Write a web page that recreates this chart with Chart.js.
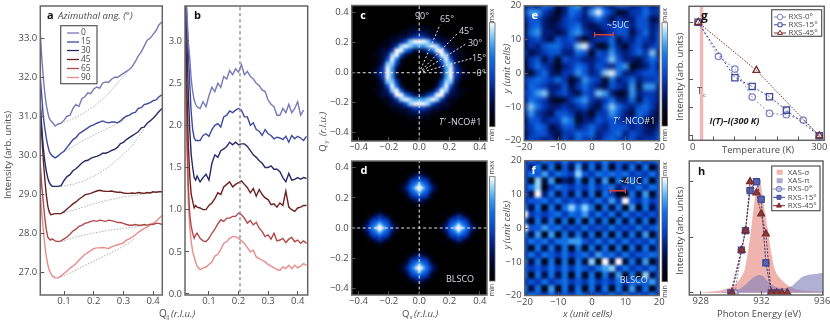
<!DOCTYPE html>
<html>
<head>
<meta charset="utf-8">
<style>
html, body { margin: 0; padding: 0; background: #fff; }
body { width: 830px; height: 328px; overflow: hidden; position: relative; }
canvas { position: absolute; left: 0; top: 0; }
</style>
<script src="https://cdn.jsdelivr.net/npm/chart.js@4/dist/chart.umd.js"></script>
</head>
<body>
<canvas id="panelA" width="830" height="328"></canvas>
<canvas id="panelB" width="830" height="328"></canvas>
<canvas id="panelC" width="830" height="328"></canvas>
<canvas id="panelD" width="830" height="328"></canvas>
<canvas id="panelE" width="830" height="328"></canvas>
<canvas id="panelF" width="830" height="328"></canvas>
<canvas id="panelG" width="830" height="328"></canvas>
<canvas id="panelH" width="830" height="328"></canvas>
<script>
// Q values shared by panels a and b
var qVals = [0.02,0.025,0.03,0.035,0.04,0.045,0.05,0.055,0.06,0.07,0.08,0.09,0.10,0.11,0.12,0.13,0.14,0.15,0.16,0.17,0.18,0.19,0.20,0.21,0.22,0.23,0.24,0.25,0.26,0.27,0.28,0.29,0.30,0.31,0.32,0.33,0.34,0.35,0.36,0.37,0.38,0.39,0.40,0.41,0.42,0.43]
var angleNames = ['0','15','30','45','65','90']
var angleColors = ['#7379b9','#3d4a9d','#252c68','#6b1f1f','#b04a4a','#e98b8b']

// panel a, raw intensity
var a0 = [33.1,32.5,32.0,31.6,31.3,31.1,30.95,30.88,30.85,30.75,30.8,30.82,30.9,31.0,31.02,31.2,31.3,31.25,31.45,31.5,31.6,31.58,31.7,31.75,31.72,31.85,31.88,31.87,31.95,32.0,32.0,32.05,32.1,32.15,32.2,32.28,32.4,32.55,32.65,32.8,32.95,33.0,33.1,33.2,33.35,33.42]
var a15 = [32.0,31.5,31.0,30.7,30.45,30.25,30.1,30.03,29.98,29.93,29.98,30.05,30.1,30.2,30.3,30.4,30.45,30.55,30.6,30.65,30.7,30.75,30.78,30.82,30.85,30.88,30.85,30.83,30.85,30.85,30.83,30.88,30.95,31.0,31.03,31.08,31.1,31.2,31.22,31.3,31.32,31.35,31.4,31.42,31.5,31.55]
var a30 = [31.3,30.7,30.2,29.85,29.6,29.42,29.3,29.24,29.2,29.2,29.2,29.22,29.35,29.45,29.5,29.6,29.65,29.72,29.8,29.85,29.87,29.92,29.95,29.97,30.0,30.05,30.05,30.08,30.12,30.15,30.2,30.3,30.33,30.4,30.45,30.5,30.55,30.6,30.7,30.72,30.82,30.88,30.95,31.03,31.12,31.2]
var a45 = [31.3,30.5,29.9,29.4,29.0,28.7,28.55,28.47,28.48,28.5,28.5,28.5,28.55,28.62,28.68,28.75,28.8,28.87,28.92,28.98,29.0,29.02,29.05,29.08,29.1,29.08,29.07,29.07,29.08,29.06,29.05,29.05,29.03,29.02,29.02,29.03,29.02,29.04,29.03,29.02,29.04,29.03,29.06,29.05,29.06,29.06]
var a65 = [29.75,29.2,28.8,28.4,28.1,27.9,27.85,27.82,27.85,27.8,27.78,27.8,27.85,27.9,27.97,28.05,28.1,28.17,28.2,28.25,28.27,28.3,28.32,28.3,28.33,28.32,28.3,28.33,28.32,28.3,28.27,28.27,28.25,28.22,28.2,28.2,28.22,28.2,28.2,28.22,28.2,28.23,28.22,28.25,28.25,28.22]
var a90 = [29.0,28.5,28.1,27.7,27.4,27.2,27.05,26.97,26.9,26.85,26.85,26.9,26.97,27.02,27.1,27.15,27.22,27.3,27.38,27.45,27.5,27.55,27.6,27.62,27.62,27.63,27.62,27.6,27.65,27.67,27.7,27.72,27.75,27.82,27.85,27.9,27.95,28.02,28.07,28.12,28.15,28.2,28.25,28.3,28.38,28.45]
// panel a, dotted backgrounds as [Q, intensity]
var bgA0 = [[0.08,30.8],[0.12,30.9],[0.16,31.05],[0.2,31.25],[0.24,31.5],[0.28,31.85],[0.32,32.2],[0.33,32.28]]
var bgA15 = [[0.09,30.05],[0.13,30.22],[0.17,30.4],[0.21,30.55],[0.25,30.7],[0.29,30.85],[0.31,30.98]]
var bgA30 = [[0.09,29.2],[0.13,29.25],[0.17,29.35],[0.21,29.5],[0.25,29.7],[0.29,29.95],[0.33,30.25],[0.37,30.68]]
var bgA45 = [[0.10,28.52],[0.15,28.63],[0.2,28.75],[0.25,28.85],[0.3,28.93],[0.35,28.98],[0.4,29.04]]
var bgA65 = [[0.09,27.78],[0.15,27.92],[0.2,28.0],[0.25,28.07],[0.3,28.12],[0.35,28.17],[0.38,28.2]]
var bgA90 = [[0.08,26.85],[0.12,26.97],[0.16,27.13],[0.2,27.28],[0.24,27.43],[0.28,27.58],[0.32,27.75],[0.34,27.88]]

// panel b, background subtracted
var b0 = [3.6,3.4,3.0,2.8,2.55,2.4,2.3,2.25,2.22,2.2,2.28,2.22,2.35,2.45,2.4,2.5,2.45,2.58,2.55,2.65,2.6,2.67,2.63,2.72,2.6,2.64,2.58,2.55,2.5,2.47,2.42,2.4,2.3,2.25,2.22,2.12,2.12,2.2,2.15,2.25,2.15,2.2,2.28,2.12,2.18,null]
var b15 = [3.6,3.3,2.9,2.5,2.15,1.95,1.85,1.82,1.82,1.82,1.88,1.9,1.87,1.95,2.0,2.02,1.98,2.1,2.12,2.17,2.15,2.18,2.2,2.18,2.1,2.1,2.0,2.03,1.95,1.93,1.88,1.95,1.9,1.88,1.84,1.86,1.85,1.83,1.87,1.8,1.88,1.84,1.87,1.85,1.82,1.87]
var b30 = [3.6,3.1,2.4,1.95,1.65,1.5,1.38,1.35,1.4,1.33,1.38,1.42,1.35,1.55,1.65,1.62,1.7,1.72,1.75,1.8,1.77,1.8,1.77,1.78,1.78,1.75,1.7,1.65,1.62,1.58,1.55,1.5,1.5,1.52,1.48,1.48,1.45,1.38,1.33,1.43,1.35,1.36,1.38,1.36,1.38,1.37]
var b45 = [3.4,2.5,1.8,1.4,1.18,1.1,1.02,1.05,1.03,1.02,1.0,1.0,1.05,1.08,1.13,1.2,1.18,1.27,1.3,1.33,1.27,1.3,1.32,1.34,1.3,1.26,1.2,1.25,1.16,1.24,1.18,1.14,1.12,1.06,1.07,1.03,1.08,1.05,1.22,1.03,1.0,0.98,1.02,1.03,1.05,1.05]
var b65 = [3.3,2.0,1.3,0.95,0.8,0.72,0.66,0.7,0.72,0.66,0.63,0.62,0.66,0.72,0.77,0.83,0.88,0.86,0.9,0.9,0.92,0.92,0.96,0.94,0.9,0.84,0.87,0.82,0.85,0.78,0.74,0.68,0.7,0.65,0.72,0.63,0.64,0.66,0.61,0.65,0.67,0.62,0.64,0.6,0.63,0.6]
var b90 = [3.0,1.8,1.1,0.8,0.62,0.5,0.44,0.38,0.33,0.29,0.31,0.32,0.35,0.38,0.45,0.47,0.53,0.6,0.62,0.66,0.68,0.68,0.66,0.63,0.6,0.55,0.5,0.52,0.44,0.42,0.4,0.38,0.35,0.33,0.31,0.29,0.28,0.32,0.3,0.34,0.3,0.34,0.31,0.33,0.36,0.34]

// panel c, one quadrant of the map, rows from Qy=0 upwards, 0.03 r.l.u. a cell, digit = brightness
var ringStep = 0.03
var ringRows = ['00000279431','00000279421','00001488310','00002695210','00125983211','22469942210','77898421100','99853221000','44322110000','32211000000','11100000000']
// azimuth cuts, end of each dashed line
var cutEnds = [[0.345,0.095],[0.315,0.196],[0.25,0.26],[0.138,0.32]]

// panel d, spot centres and one quadrant of a spot, 0.02 r.l.u. a cell
var spotCentres = [[0.26,0],[-0.26,0],[0,0.265],[0,-0.265]]
var spotStep = 0.02
var spotRows = ['9975421','9765321','7654210','5443100','4321100','2110000','1000000']

// panels e and f, rows from y=20 down to y=-20, x from -20 to 20, 2 unit cells a cell
var mapStep = 2
var eRows = ['343652367346435534534','477431365379641244644','355322454346424335523','256323456323445535534','267332367432345524635','345325453134462435435','243566448941163145345','423455336515474346483','245241544334585332464','146431346535436712353','314632447534896334554','456546413754163463445','365433524643254372773','457834532548731273443','365421246743463362543','486433434532586435642','374325542314475326532','255344761335454345213','346523553464355534324','245532446563456354335','354342536443564453445']
var fRows = ['454654645454645546456','536261527262615262614','465746548546565645464','518271326162716162615','468146545464563546465','529362526261641162715','455646454546474954645','626162686861626171625','945456465746463645454','516261616162616262615','955756454645464546456','627171626261616262715','465646677546464645464','516262616162616162625','464654645647564645565','626161616281929262714','545464646546784645464','616262616161627161825','454645645464546456574','626171626162616272615','465464546545464645464']
var heatColors = ['#000000','#000418','#000c40','#021c78','#0438b4','#0a54d8','#1070e8','#3a9cf4','#90d4fc','#ffffff']

// panel g
var tempRxs0 = [13,61,100,141,182,222,262,300]
var intRxs0 = [1,0.70,0.588,0.341,0.197,0.185,0.138,0]
var tempRxs15 = [13,100,141,182,222,300]
var intRxs15 = [1,0.512,0.435,0.344,0.226,0]
var tempRxs45 = [13,151,300]
var intRxs45 = [1,0.576,0]
var tcMark = 21

// panel h
var eXasS = [928,929,929.5,930,930.4,930.7,930.9,931.1,931.3,931.5,931.7,931.8,931.95,932.1,932.3,932.45,932.6,932.8,933,933.3,933.7,934.2,934.8,935.5,936.05]
var xasS = [0.003,0.015,0.03,0.05,0.09,0.15,0.21,0.36,0.55,0.78,0.97,1.0,0.98,0.85,0.66,0.55,0.4,0.25,0.17,0.12,0.07,0.035,0.02,0.012,0.008]
var eXasP = [928,930,930.5,931,931.4,931.8,932.1,932.5,933,933.5,934,934.4,934.8,935.2,935.6,936.05]
var xasP = [0,0.01,0.03,0.08,0.13,0.16,0.15,0.09,0.05,0.04,0.06,0.11,0.15,0.165,0.17,0.18]
var eRxs0 = [930.26,930.68,930.95,931.25,931.7,931.98,932.29,932.64,932.95,933.25,933.65]
var rxsH0 = [0,0.385,0.56,0.925,1,0.84,0.27,0,0,0,0]
var eRxs15 = [929.98,930.68,930.95,931.25,931.67,931.98,932.29,932.65,933]
var rxsH15 = [0,0.385,0.56,0.92,1,0.84,0.27,0,0]
var eRxs45 = [930.05,930.7,930.95,931.25,931.67,931.98,932.29,932.64,933,933.35,933.7]
var rxsH45 = [0,0.385,0.56,1,0.9,0.71,0.53,0,0,0,0]

var fontName = '"Open Sans", "Noto Sans", sans-serif'
var textGrey = '#4a4a4a'
var frameGrey = '#666666'

function zip(xs, ys) {
    return xs.map(function (x, i) { return { x: x, y: ys[i] } })
}
function pairs(list) {
    return list.map(function (p) { return { x: p[0], y: p[1] } })
}
function minusSign(text) {
    return String(text).replace('-', '\u2212')
}
function lineSet(points, color, width, dash) {
    return { data: points, showLine: true, borderColor: color, borderWidth: width, borderDash: dash || [], pointRadius: 0, fill: false, tension: 0 }
}
function markerSet(points, color, style, radius, fillColor, dash) {
    return {
        data: points, showLine: true, borderColor: color, borderWidth: 1, borderDash: dash || [2, 2], tension: 0,
        pointStyle: style, pointRadius: radius, pointBorderColor: color, pointBorderWidth: 1.3, pointBackgroundColor: fillColor
    }
}
function heatSet(points, cellRadius) {
    return {
        data: points, heat: true, showLine: false, clip: 14, pointStyle: 'rect', pointRadius: cellRadius, pointBorderWidth: 0,
        pointBackgroundColor: function (c) { return c.raw ? heatColors[c.raw.v] : '#000' }
    }
}
function quadrantPoints(rows, step, cx, cy) {
    var out = []
    rows.forEach(function (row, j) {
        row.split('').forEach(function (ch, i) {
            var v = +ch
            if (v == 0) return
            ;[1, -1].forEach(function (sx) {
                ;[1, -1].forEach(function (sy) {
                    out.push({ x: cx + sx * i * step, y: cy + sy * j * step, v: v })
                })
            })
        })
    })
    return out
}
function mapPoints(rows, step) {
    var out = []
    rows.forEach(function (row, j) {
        row.split('').forEach(function (ch, i) {
            out.push({ x: -20 + i * step, y: 20 - j * step, v: +ch })
        })
    })
    return out
}
function axis(min, max, ticks, labelFn, fixedSize, isX, tickColor) {
    var o = {
        type: 'linear', min: min, max: max, position: isX ? 'bottom' : 'left',
        border: { display: false, z: 1 },
        grid: { drawOnChartArea: false, drawTicks: true, tickLength: -4, color: tickColor || '#555', lineWidth: 1, z: 1 },
        ticks: { autoSkip: false, maxRotation: 0, minRotation: 0, padding: isX ? 5 : 7, color: textGrey, font: { family: fontName, size: 9.5 }, callback: labelFn, z: 1 },
        afterBuildTicks: function (s) { s.ticks = ticks.map(function (v) { return { value: v } }) }
    }
    o.afterFit = function (s) {
        // keep the plot box where the page wants it, no room for overhanging labels
        s.paddingTop = 0; s.paddingBottom = 0; s.paddingLeft = 0; s.paddingRight = 0
        if (isX) s.height = fixedSize
        else s.width = fixedSize
    }
    return o
}
function note(t, x, y, font, color, align, rot) {
    return { t: t, x: x, y: y, font: font || ('9.5px ' + fontName), color: color || textGrey, align: align || 'left', rot: rot || 0 }
}

function makePanel(id, area, datasets, xAxis, yAxis, extra) {
    var panelPlugin = {
        id: 'panelExtras',
        afterDatasetDraw: function (chart, args) {
            // blur the heat cells so the map reads as a smooth image
            if (!chart.data.datasets[args.index].heat) return
            var a = chart.chartArea, c = chart.ctx
            var tmp = document.createElement('canvas')
            tmp.width = chart.width; tmp.height = chart.height
            var t = tmp.getContext('2d')
            t.filter = 'blur(' + extra.blur + 'px)'
            t.drawImage(chart.canvas, 0, 0)
            c.clearRect(0, 0, chart.width, chart.height)
            c.fillStyle = '#000'
            c.fillRect(a.left, a.top, a.right - a.left, a.bottom - a.top)
            c.drawImage(tmp, a.left, a.top, a.right - a.left, a.bottom - a.top, a.left, a.top, a.right - a.left, a.bottom - a.top)
        },
        afterDraw: function (chart) {
            var c = chart.ctx, a = chart.chartArea
            c.save()
            c.strokeStyle = frameGrey
            c.lineWidth = 1.5
            c.strokeRect(a.left, a.top, a.right - a.left, a.bottom - a.top)
            if (extra.bar) {
                var b = extra.bar
                var g = c.createLinearGradient(0, b.bottom, 0, b.top)
                heatColors.forEach(function (col, i) { g.addColorStop(i / 9, col) })
                c.fillStyle = g
                c.fillRect(b.left, b.top, b.right - b.left, b.bottom - b.top)
                c.lineWidth = 0.8
                c.strokeRect(b.left, b.top, b.right - b.left, b.bottom - b.top)
            }
            if (extra.legend) drawLegend(c, extra.legend)
            ;(extra.notes || []).forEach(function (n) {
                c.save()
                c.translate(n.x, n.y)
                c.rotate(n.rot * Math.PI / 180)
                c.font = n.font
                c.fillStyle = n.color
                c.textAlign = n.align
                c.textBaseline = 'middle'
                c.fillText(n.t, 0, 0)
                c.restore()
            })
            c.restore()
        }
    }
    return new Chart(document.getElementById(id), {
        type: 'scatter',
        data: { datasets: datasets },
        options: {
            responsive: false, animation: false, events: [],
            layout: { padding: { left: 0, top: area.top, right: 830 - area.right, bottom: 0 } },
            plugins: { legend: { display: false }, tooltip: { enabled: false } },
            scales: { x: xAxis, y: yAxis }
        },
        plugins: [panelPlugin]
    })
}

function drawLegend(c, lg) {
    c.save()
    c.fillStyle = '#fff'
    c.fillRect(lg.left, lg.top, lg.right - lg.left, lg.bottom - lg.top)
    c.strokeStyle = '#555'
    c.lineWidth = 1.2
    c.strokeRect(lg.left, lg.top, lg.right - lg.left, lg.bottom - lg.top)
    lg.rows.forEach(function (r, i) {
        var y = lg.rowY[i]
        if (r.area) {
            c.fillStyle = r.area
            c.fillRect(lg.swatch[0], y - 2.5, lg.swatch[1] - lg.swatch[0], 5)
        } else {
            c.strokeStyle = r.color
            c.lineWidth = r.width || 1.3
            c.beginPath()
            c.moveTo(lg.line[0], y)
            c.lineTo(lg.line[1], y)
            c.stroke()
            if (r.point) {
                c.fillStyle = r.fill
                c.lineWidth = 1
                c.beginPath()
                Chart.helpers.drawPoint(c, { pointStyle: r.point, radius: 2.8, borderWidth: 1, rotation: 0 }, (lg.line[0] + lg.line[1]) / 2, y)
            }
        }
        c.fillStyle = textGrey
        c.font = lg.font
        c.textAlign = 'left'
        c.textBaseline = 'middle'
        c.fillText(r.label, lg.textX, y)
    })
    c.restore()
}

var boldLabel = 'bold 11px ' + fontName
var italicFont = 'italic 9.5px ' + fontName
var lightText = '#d8dde8'

// ---- panel a
var setsA = [a0, a15, a30, a45, a65, a90].map(function (s, i) { return lineSet(zip(qVals, s), angleColors[i], 1.4) })
;[bgA0, bgA15, bgA30, bgA45, bgA65, bgA90].forEach(function (s) { setsA.push(lineSet(pairs(s), '#a8a8a8', 0.9, [1.5, 1.5])) })
makePanel('panelA', { top: 6, right: 162.3 },
    setsA,
    axis(0.02, 0.431, [0.1, 0.2, 0.3, 0.4], function (v) { return v.toFixed(1) }, 33, true),
    axis(26.41, 33.83, [27, 28, 29, 30, 31, 32, 33], function (v) { return v.toFixed(1) }, 40.3, false),
    {
        legend: {
            left: 60.7, top: 25.7, right: 97, bottom: 83.7, rowY: [33, 42, 50.5, 59.5, 68.5, 77.5], line: [67, 79], textX: 81, swatch: [0, 0],
            font: '8.5px ' + fontName,
            rows: angleNames.map(function (n, i) { return { label: n, color: angleColors[i] } })
        },
        notes: [
            note('a', 47, 16, boldLabel, '#111'),
            note('Azimuthal ang. (\u00b0)', 58, 16, italicFont),
            note('Intensity (arb. units)', 8, 155, '9.5px ' + fontName, textGrey, 'center', -90),
            note('Q', 159, 314, '10px ' + fontName),
            note('\u2016', 166, 317, '6px ' + fontName),
            note('(r.l.u.)', 171, 314, italicFont)
        ]
    })

// ---- panel b
var setsB = [lineSet([{ x: 0.205, y: -0.05 }, { x: 0.205, y: 3.5 }], '#888888', 1.4, [3, 3])]
;[b0, b15, b30, b45, b65, b90].forEach(function (s, i) { setsB.push(lineSet(zip(qVals, s), angleColors[i], 1.4)) })
makePanel('panelB', { top: 6, right: 307.7 },
    setsB,
    axis(0.019, 0.434, [0.1, 0.2, 0.3, 0.4], function (v) { return v.toFixed(1) }, 33, true),
    axis(-0.012, 3.415, [0, 0.5, 1, 1.5, 2, 2.5, 3], function (v) { return v.toFixed(1) }, 185, false),
    { notes: [note('b', 194, 16, boldLabel, '#111')] })

// ---- panel c
var setsC = [
    lineSet([{ x: -0.445, y: 0 }, { x: 0.447, y: 0 }], '#e8e8e8', 1, [3, 2.5]),
    lineSet([{ x: 0, y: -0.455 }, { x: 0, y: 0.448 }], '#e8e8e8', 1, [3, 2.5])
]
cutEnds.forEach(function (e) { setsC.push(lineSet([{ x: 0, y: 0 }, { x: e[0], y: e[1] }], '#e8e8e8', 1, [2, 2])) })
setsC.push(heatSet(quadrantPoints(ringRows, ringStep, 0, 0), 3.5))
var mapTicks = [-0.4, -0.2, 0, 0.2, 0.4]
function qLabel(v) { return minusSign(v.toFixed(1)) }
makePanel('panelC', { top: 5.5, right: 487 },
    setsC,
    axis(-0.445, 0.447, mapTicks, qLabel, 187, true),
    axis(-0.455, 0.448, mapTicks, qLabel, 351.7, false),
    {
        blur: 1.5,
        bar: { left: 489.5, top: 22.7, right: 495, bottom: 126.7 },
        notes: [
            note('c', 363, 16, boldLabel, '#fff', 'center'),
            note('90\u00b0', 422, 16, '9px ' + fontName, lightText, 'center'),
            note('65\u00b0', 447, 19, '9px ' + fontName, lightText, 'center'),
            note('45\u00b0', 466, 31, '9px ' + fontName, lightText, 'center'),
            note('30\u00b0', 475, 43, '9px ' + fontName, lightText, 'center'),
            note('15\u00b0', 479, 58, '9px ' + fontName, lightText, 'center'),
            note('0\u00b0', 481, 73, '9px ' + fontName, lightText, 'center'),
            note('T\u2032', 439, 122, 'italic 9px ' + fontName, lightText),
            note('-NCO#1', 448, 122, '9px ' + fontName, lightText),
            note('max', 492.3, 15.5, '7px ' + fontName, textGrey, 'center', -90),
            note('min', 492.3, 135, '7px ' + fontName, textGrey, 'center', -90),
            note('Q', 323, 148, '9.5px ' + fontName, textGrey, 'center', -90),
            note('y', 326, 142, '6px ' + fontName, textGrey, 'center', -90),
            note('(r.l.u.)', 323, 124, italicFont, textGrey, 'center', -90)
        ]
    })

// ---- panel d
var spotPoints = []
spotCentres.forEach(function (c) { spotPoints = spotPoints.concat(quadrantPoints(spotRows, spotStep, c[0], c[1])) })
makePanel('panelD', { top: 161, right: 487 },
    [
        lineSet([{ x: -0.445, y: 0 }, { x: 0.447, y: 0 }], '#e8e8e8', 1, [3, 2.5]),
        lineSet([{ x: 0, y: -0.444 }, { x: 0, y: 0.444 }], '#e8e8e8', 1, [3, 2.5]),
        heatSet(spotPoints, 2.4)
    ],
    axis(-0.445, 0.447, mapTicks, qLabel, 33, true),
    axis(-0.444, 0.444, mapTicks, qLabel, 351.7, false),
    {
        blur: 1.2,
        bar: { left: 489.5, top: 176.7, right: 495, bottom: 281 },
        notes: [
            note('d', 364, 171, boldLabel, '#fff', 'center'),
            note('BLSCO', 460, 279, '9px ' + fontName, lightText, 'center'),
            note('max', 492.3, 167.5, '7px ' + fontName, textGrey, 'center', -90),
            note('min', 492.3, 290, '7px ' + fontName, textGrey, 'center', -90),
            note('Q', 402, 314, '9.5px ' + fontName),
            note('x', 409.5, 317, '6px ' + fontName),
            note('(r.l.u.)', 414, 314, italicFont)
        ]
    })

// ---- panels e, f
var cellTicks = [-20, -10, 0, 10, 20]
function cellLabel(v) { return minusSign(v) }
function redBar(x1, x2, y) {
    return { data: [{ x: x1, y: y }, { x: x2, y: y }], showLine: true, borderColor: '#d8423a', borderWidth: 1.4, pointStyle: 'line', pointRotation: 90, pointRadius: 2.8, pointBorderColor: '#d8423a', pointBorderWidth: 1.2 }
}
makePanel('panelE', { top: 5.7, right: 659.5 },
    [redBar(0.83, 6.3, 11.4), heatSet(mapPoints(eRows, mapStep), 5)],
    axis(-20, 20, cellTicks, cellLabel, 187.3, true),
    axis(-20, 20, cellTicks, cellLabel, 524.3, false),
    {
        blur: 2,
        bar: { left: 662, top: 22.7, right: 667.5, bottom: 126 },
        notes: [
            note('e', 534.7, 16, boldLabel, '#fff', 'center'),
            note('~5UC', 618, 25.5, '9px ' + fontName, lightText, 'center'),
            note('T\u2032', 613, 121, 'italic 9px ' + fontName, lightText),
            note('-NCO#1', 622, 121, '9px ' + fontName, lightText),
            note('max', 665, 15, '7px ' + fontName, textGrey, 'center', -90),
            note('min', 665, 135, '7px ' + fontName, textGrey, 'center', -90),
            note('y', 507.7, 91, italicFont, textGrey, 'center', -90),
            note('(unit cells)', 507.7, 65, italicFont, textGrey, 'center', -90)
        ]
    })
makePanel('panelF', { top: 160.7, right: 659.2 },
    [redBar(5.5, 9.9, 11.1), heatSet(mapPoints(fRows, mapStep), 5)],
    axis(-20, 20, cellTicks, cellLabel, 32.5, true),
    axis(-20, 20, cellTicks, cellLabel, 524.7, false),
    {
        blur: 1.6,
        bar: { left: 662, top: 177.3, right: 667.5, bottom: 281.7 },
        notes: [
            note('f', 533.7, 171, boldLabel, '#fff', 'center'),
            note('~4UC', 630.3, 181, '9px ' + fontName, lightText, 'center'),
            note('BLSCO', 633.7, 280, '9px ' + fontName, lightText, 'center'),
            note('max', 665, 169, '7px ' + fontName, textGrey, 'center', -90),
            note('min', 665, 291.5, '7px ' + fontName, textGrey, 'center', -90),
            note('y', 507.7, 247, italicFont, textGrey, 'center', -90),
            note('(unit cells)', 507.7, 222, italicFont, textGrey, 'center', -90),
            note('x', 563, 314, italicFont),
            note('(unit cells)', 570, 314, italicFont)
        ]
    })

// ---- panel g
var rxsColors = ['#7d83c4', '#3d4a9d', '#7a2a2a']
makePanel('panelG', { top: 6.3, right: 825 },
    [
        markerSet(zip(tempRxs45, intRxs45), rxsColors[2], 'triangle', 4, 'rgba(255,255,255,0.2)', [1.5, 1.5]),
        markerSet(zip(tempRxs15, intRxs15), rxsColors[1], 'rect', 4.4, 'rgba(255,255,255,0.2)'),
        markerSet(zip(tempRxs0, intRxs0), rxsColors[0], 'circle', 3.2, 'rgba(255,255,255,0.2)'),
        lineSet([{ x: tcMark, y: -0.04 }, { x: tcMark, y: 1.141 }], '#f0b8b4', 3.4)
    ],
    axis(-8.7, 311.8, [0, 50, 100, 150, 200, 250, 300], function (v) { return (v == 0 || v == 300) ? String(v) : '' }, 187.7, true),
    axis(-0.04, 1.141, [0, 0.25, 0.5, 0.75, 1], function () { return '' }, 689, false),
    {
        legend: {
            left: 771.7, top: 9.7, right: 821.7, bottom: 36.3, rowY: [17, 24.8, 33], line: [774, 786], textX: 788.5, swatch: [0, 0],
            font: '8px ' + fontName,
            rows: [
                { label: 'RXS-0\u00b0', color: rxsColors[0], point: 'circle', fill: '#fff', width: 1 },
                { label: 'RXS-15\u00b0', color: rxsColors[1], point: 'rect', fill: '#fff', width: 1 },
                { label: 'RXS-45\u00b0', color: rxsColors[2], point: 'triangle', fill: '#fff', width: 1 }
            ]
        },
        notes: [
            note('g', 701, 17, 'bold 12px ' + fontName, '#111'),
            note('T', 697, 91, '9.5px ' + fontName),
            note('c', 703, 95, '6px ' + fontName),
            note('I(T)\u2013I(300 K)', 709.5, 121, 'italic bold 9px ' + fontName, '#222'),
            note('Temperature (K)', 758, 150, '9.5px ' + fontName, textGrey, 'center'),
            note('Intensity (arb. units)', 680, 76.7, '9.5px ' + fontName, textGrey, 'center', -90)
        ]
    })

// ---- panel h
var sigmaFill = '#efb4ae'
var piFill = 'rgba(128,128,186,0.62)'
var setSigma = { data: zip(eXasS, xasS), showLine: true, borderWidth: 0, pointRadius: 0, fill: 'origin', backgroundColor: sigmaFill, tension: 0.2 }
var setPi = { data: zip(eXasP, xasP), showLine: true, borderWidth: 0, pointRadius: 0, fill: 'origin', backgroundColor: piFill, tension: 0.2 }
makePanel('panelH', { top: 161, right: 823 },
    [
        markerSet(zip(eRxs45, rxsH45), rxsColors[2], 'triangle', 4, '#8a3a3a', [2, 1.5]),
        markerSet(zip(eRxs15, rxsH15), rxsColors[1], 'rect', 4.2, '#5a64ae', [2, 1.5]),
        markerSet(zip(eRxs0, rxsH0), rxsColors[0], 'circle', 3.2, '#b6badf', [2, 1.5]),
        setPi,
        setSigma
    ],
    axis(927.25, 936.05, [928, 932, 936], function (v) { return String(v) }, 33, true),
    axis(-0.02, 1.186, [0, 0.5, 1], function () { return '' }, 689.3, false),
    {
        legend: {
            left: 771.7, top: 166, right: 820, bottom: 210.7, rowY: [172.3, 180.7, 189, 197.3, 205.7], line: [773, 785], swatch: [776.7, 782.7], textX: 787.7,
            font: '8px ' + fontName,
            rows: [
                { label: 'XAS-\u03c3', area: sigmaFill },
                { label: 'XAS-\u03c0', area: 'rgb(170,170,210)' },
                { label: 'RXS-0\u00b0', color: rxsColors[0], point: 'circle', fill: '#b6badf', width: 1 },
                { label: 'RXS-15\u00b0', color: rxsColors[1], point: 'rect', fill: '#5a64ae', width: 1 },
                { label: 'RXS-45\u00b0', color: rxsColors[2], point: 'triangle', fill: '#8a3a3a', width: 1 }
            ]
        },
        notes: [
            note('h', 698, 172, boldLabel, '#111'),
            note('Photon Energy (eV)', 759, 314, '9.5px ' + fontName, textGrey, 'center'),
            note('Intensity (arb. units)', 680.7, 230.7, '9.5px ' + fontName, textGrey, 'center', -90)
        ]
    })
</script>
</body>
</html>
